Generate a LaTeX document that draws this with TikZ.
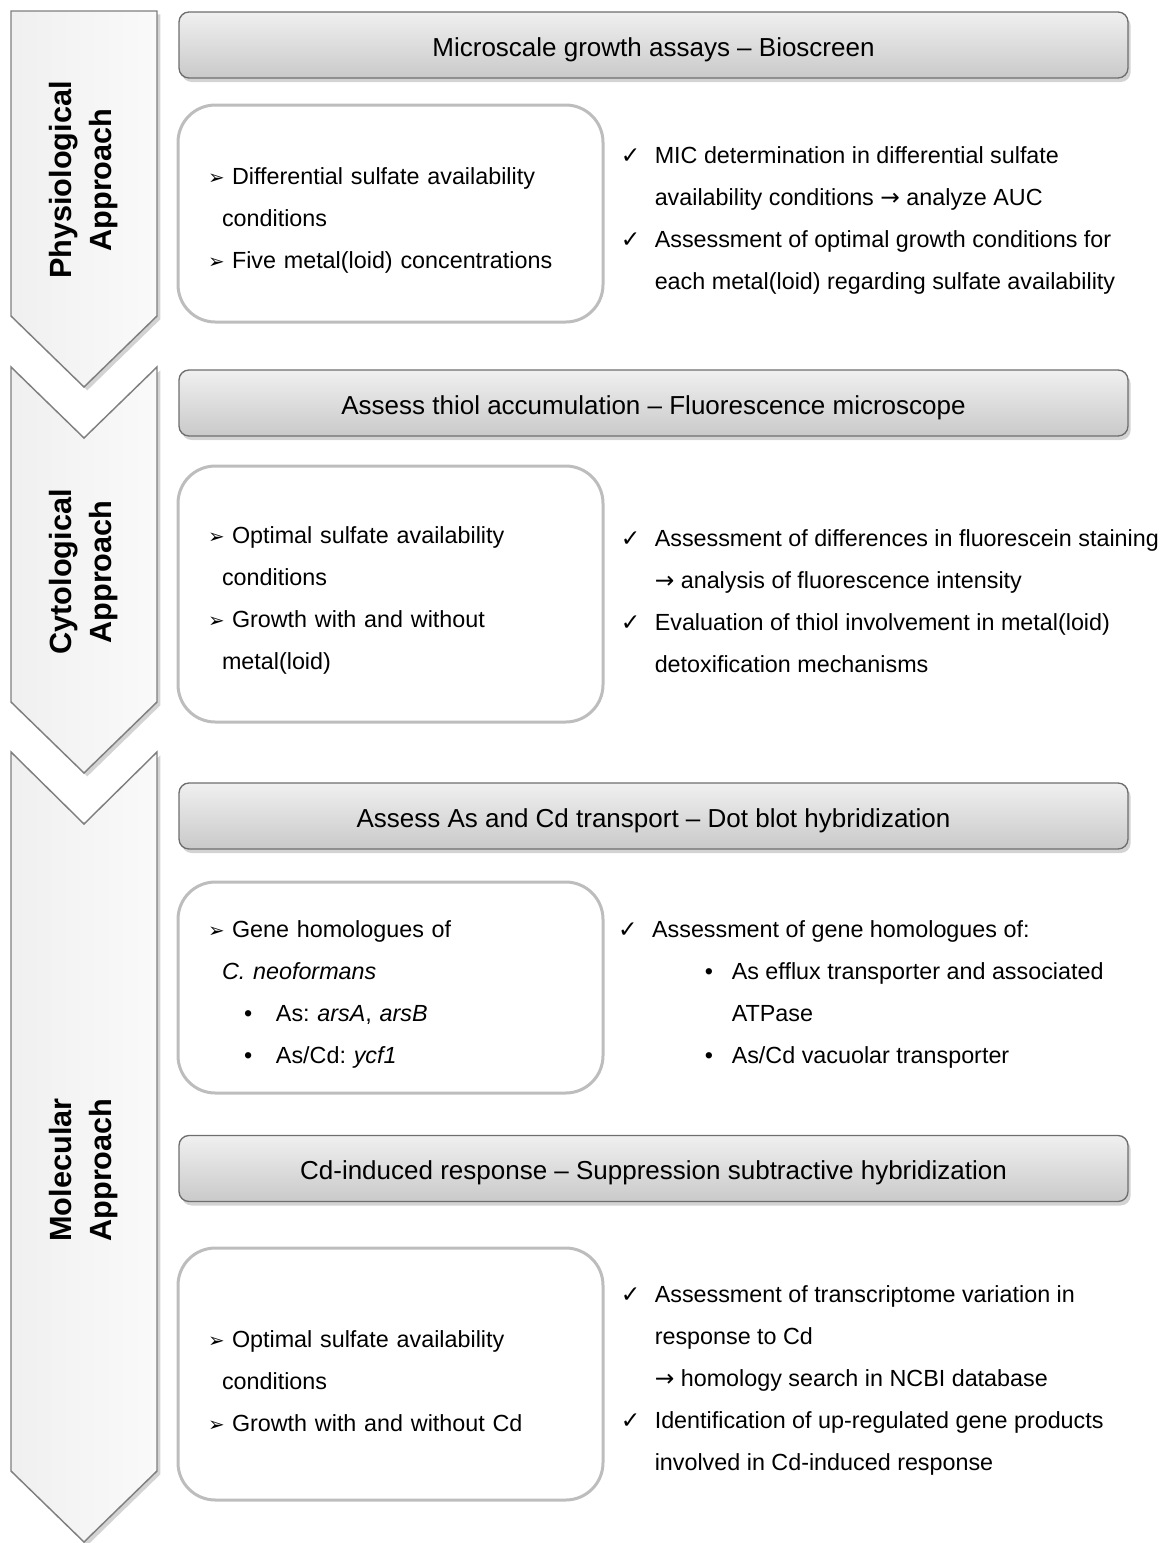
\documentclass[tikz,border=0pt]{standalone}
\usepackage{graphicx}
\usepackage{fontspec}
\setmainfont{Liberation Sans}
\newfontfamily\symfont{DejaVu Sans}
\usetikzlibrary{shadows,positioning}
\frenchspacing

\definecolor{chevline}{HTML}{7F7F7F}
\definecolor{barline}{HTML}{6E6E6E}
\definecolor{boxline}{HTML}{BDBDBD}

\newcommand{\tip}{\makebox[18pt][l]{\symfont\scalebox{0.85}{➢}}}
\newcommand{\chk}{\makebox[25.5pt][l]{\symfont ✓}}
\newcommand{\dotb}[1]{\makebox[#1][l]{\textbullet}}
\newcommand{\goesto}{{\symfont →}}
\newcommand{\firstline}{\rule{0pt}{22.8pt}}

\begin{document}
\begin{tikzpicture}[
x=0.75pt, y=-0.75pt,
font=\fontsize{17.5}{31.5}\selectfont,
node distance=12pt,
chevron/.style={draw=chevline, line width=1.1pt, left color=gray!12, right color=gray!4,
  drop shadow={opacity=0.35, shadow xshift=2.5pt, shadow yshift=-2.5pt}},
sidelabel/.style={rotate=90, align=center, font=\fontsize{23}{30}\selectfont\bfseries},
bar/.style={draw=barline, line width=1pt, rounded corners=7.5pt, top color=gray!12, bottom color=gray!42,
  minimum width=711.75pt, minimum height=49.5pt, text height=17.5pt, text depth=1pt,
  font=\fontsize{19.5}{24}\selectfont,
  drop shadow={opacity=0.35, shadow xshift=2pt, shadow yshift=-3pt}},
roundbox/.style={draw=boxline, line width=2.25pt, rounded corners=28pt, fill=white,
  inner xsep=22.5pt, text width=273.75pt, align=left, minimum width=318.75pt},
result/.style={align=left, inner sep=0pt, yshift=-5pt}
]
\useasboundingbox (0,0) rectangle (1163,1543);

% approach chevrons
\draw[chevron] (11,11) -- (157,11) -- (157,316) -- (84,387) -- (11,316) -- cycle;
\draw[chevron] (11,367) -- (84,438) -- (157,367) -- (157,702) -- (84,773) -- (11,702) -- cycle;
\draw[chevron] (11,752) -- (84,824) -- (157,752) -- (157,1471) -- (84,1542) -- (11,1471) -- cycle;

\node[sidelabel] (phys) at (84,180) {Physiological\\Approach};
\node[sidelabel] (cyto) at (84,572) {Cytological\\Approach};
\node[sidelabel] (mol) at (84,1170) {Molecular\\Approach};

% method bars
\node[bar] (bar1) at (653.5,45) {Microscale growth assays -- Bioscreen};
\node[bar] (bar2) at (653.5,403) {Assess thiol accumulation -- Fluorescence microscope};
\node[bar] (bar3) at (653.5,816) {Assess As and Cd transport -- Dot blot hybridization};
\node[bar] (bar4) at (653.5,1168.5) {Cd-induced response -- Suppression subtractive hybridization};

% conditions
\node[roundbox, minimum height=162.75pt] (cond1) at (390.5,213.5)
  {\firstline\tip Differential sulfate availability\\
   \hspace*{10.5pt}conditions\\
   \tip Five metal(loid) concentrations};
\node[roundbox, minimum height=192pt] (cond2) at (390.5,594)
  {\firstline\tip Optimal sulfate availability\\
   \hspace*{10.5pt}conditions\\
   \tip Growth with and without\\
   \hspace*{10.5pt}metal(loid)};
\node[roundbox, minimum height=158.25pt] (cond3) at (390.5,987.5)
  {\firstline\tip Gene homologues of\\
   \hspace*{10.5pt}\textit{C. neoformans}\\
   \hspace*{27pt}\dotb{24pt}As: \textit{arsA}, \textit{arsB}\\
   \hspace*{27pt}\dotb{24pt}As/Cd: \textit{ycf1}};
\node[roundbox, minimum height=189pt] (cond4) at (390.5,1374)
  {\firstline\tip Optimal sulfate availability\\
   \hspace*{10.5pt}conditions\\
   \tip Growth with and without Cd};

% outcomes
\node[result, right=12pt of cond1] (out1)
  {\chk MIC determination in differential sulfate\\
   \hspace*{25.5pt}availability conditions \goesto{} analyze AUC\\
   \chk Assessment of optimal growth conditions for\\
   \hspace*{25.5pt}each metal(loid) regarding sulfate availability};
\node[result, right=12pt of cond2] (out2)
  {\chk Assessment of differences in fluorescein staining\\
   \hspace*{25.5pt}\goesto{} analysis of fluorescence intensity\\
   \chk Evaluation of thiol involvement in metal(loid)\\
   \hspace*{25.5pt}detoxification mechanisms};
\node[result, right=10pt of cond3] (out3)
  {\chk Assessment of gene homologues of:\\
   \hspace*{65pt}\dotb{20.25pt}As efflux transporter and associated\\
   \hspace*{85.25pt}ATPase\\
   \hspace*{65pt}\dotb{20.25pt}As/Cd vacuolar transporter};
\node[result, right=12pt of cond4] (out4)
  {\chk Assessment of transcriptome variation in\\
   \hspace*{25.5pt}response to Cd\\
   \hspace*{25.5pt}\goesto{} homology search in NCBI database\\
   \chk Identification of up-regulated gene products\\
   \hspace*{25.5pt}involved in Cd-induced response};
\end{tikzpicture}
\end{document}
